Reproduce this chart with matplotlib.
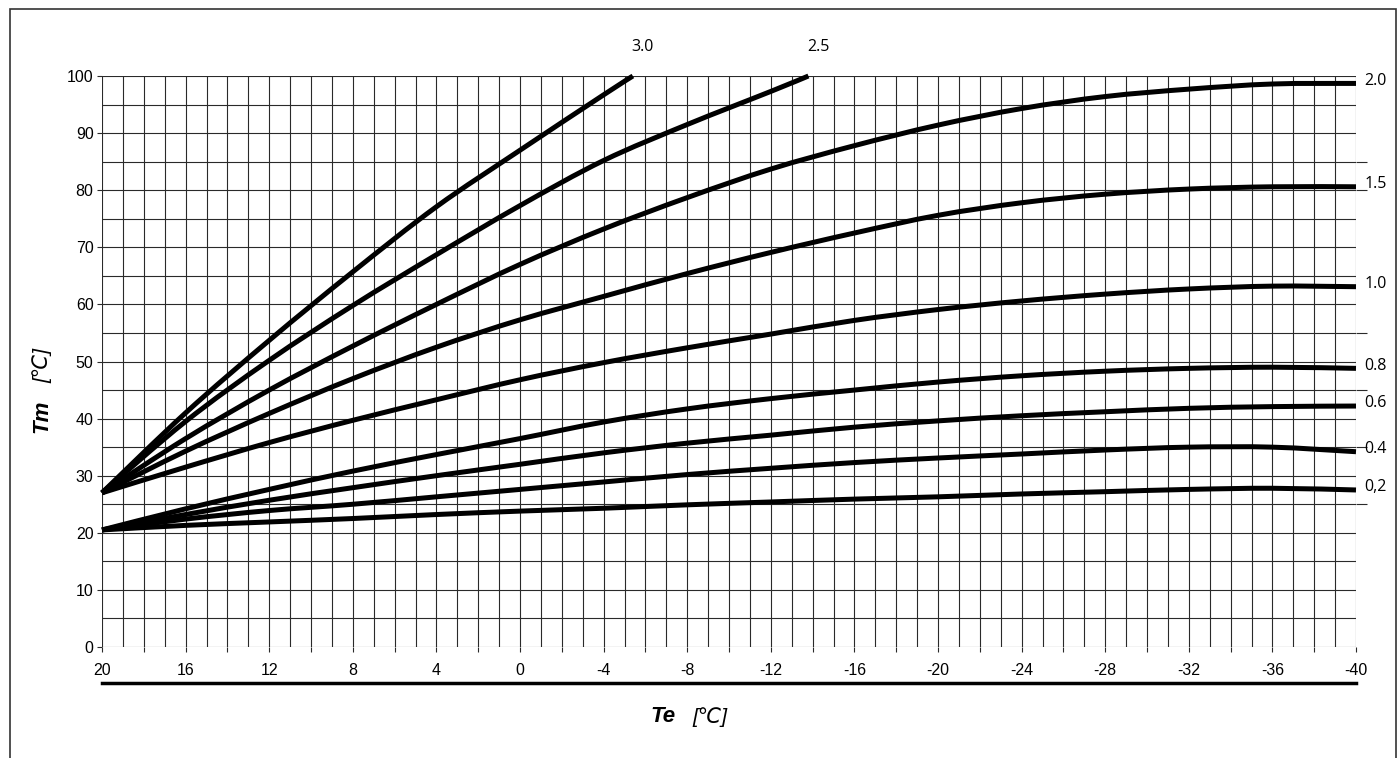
import matplotlib
matplotlib.use('Agg')
import matplotlib.pyplot as plt
from matplotlib.patches import Rectangle, PathPatch
from matplotlib.path import Path
from matplotlib.lines import Line2D
import matplotlib.transforms as mtransforms

# ---- data ----
te_full = [20, 16, 12, 8, 4, 0, -4, -8, -12, -16, -20, -24, -28, -32, -36, -40]

te_30 = [20, 16, 12, 8, 4, 0, -4, -5.4]
tm_30 = [27, 41, 53.7, 65.7, 77.1, 87, 96.7, 100]

te_25 = [20, 16, 12, 8, 4, 0, -4, -8, -12, -13.8]
tm_25 = [27, 39.5, 50.2, 59.8, 68.7, 77.3, 85.2, 91.5, 97.3, 100]

tm_20 = [27, 36.5, 45, 52.7, 60, 67, 73.2, 78.7, 83.7, 87.8, 91.4, 94.3, 96.4, 97.7, 98.6, 98.7]
tm_15 = [27, 34.3, 40.9, 47, 52.5, 57.3, 61.4, 65.4, 69.1, 72.5, 75.6, 77.8, 79.3, 80.2, 80.6, 80.6]
tm_10 = [27, 31.5, 35.8, 39.7, 43.3, 46.8, 49.8, 52.4, 54.8, 57.2, 59.1, 60.6, 61.8, 62.7, 63.2, 63.1]
tm_08 = [20.5, 24.2, 27.6, 30.8, 33.7, 36.5, 39.4, 41.7, 43.5, 45.0, 46.4, 47.5, 48.3, 48.8, 49.0, 48.8]
tm_06 = [20.5, 23.2, 25.7, 27.9, 30.0, 32.0, 34.0, 35.7, 37.1, 38.5, 39.6, 40.5, 41.2, 41.8, 42.1, 42.2]
tm_04 = [20.5, 22.4, 23.9, 25.0, 26.3, 27.6, 28.9, 30.2, 31.3, 32.3, 33.1, 33.8, 34.5, 35.0, 35.0, 34.2]
tm_02 = [20.5, 21.3, 21.9, 22.5, 23.2, 23.8, 24.3, 24.9, 25.4, 25.9, 26.3, 26.8, 27.2, 27.6, 27.8, 27.5]

side_labels = ["2.0", "1.5", "1.0", "0.8", "0.6", "0.4", "0,2"]
top_labels = ["3.0", "2.5"]

y_ticks = [0, 10, 20, 30, 40, 50, 60, 70, 80, 90, 100]
x_ticks = [20, 16, 12, 8, 4, 0, -4, -8, -12, -16, -20, -24, -28, -32, -36, -40]
right_stubs = [25, 35, 45, 55, 80, 85]


def smooth_path(xs, ys, t=1/6):
    """Smoothed (Bezier) line through the given points, like a spreadsheet 'smoothed line'."""
    pts = list(zip(xs, ys))
    n = len(pts)
    verts = [pts[0]]
    codes = [Path.MOVETO]
    for i in range(n - 1):
        p0 = pts[i - 1] if i > 0 else pts[i]
        p1 = pts[i]
        p2 = pts[i + 1]
        p3 = pts[i + 2] if i + 2 < n else pts[i + 1]
        c1 = (p1[0] + (p2[0] - p0[0]) * t, p1[1] + (p2[1] - p0[1]) * t)
        c2 = (p2[0] - (p3[0] - p1[0]) * t, p2[1] - (p3[1] - p1[1]) * t)
        verts += [c1, c2, p2]
        codes += [Path.CURVE4] * 3
    return Path(verts, codes)


# ---- figure ----
fig = plt.figure(figsize=(13.98, 7.58), dpi=100)
fig.patch.set_facecolor('white')
ax = fig.add_axes([102/1398, 1-647/758, (1356-102)/1398, (647-76)/758])

ax.set_xlim(20, -40)
ax.set_ylim(0, 100)

gridc = '#2a2a2a'
for v in range(-40, 21, 1):
    ax.axvline(v, color=gridc, lw=0.8, zorder=1)
for h in range(0, 101, 5):
    ax.axhline(h, color=gridc, lw=0.8, zorder=1)

for s in ax.spines.values():
    s.set_visible(False)

fam = ['Liberation Sans', 'DejaVu Sans']
ax.set_yticks(y_ticks)
ax.set_yticklabels([str(v) for v in y_ticks])
ax.set_xticks(x_ticks)
ax.set_xticklabels([str(v) for v in x_ticks])
ax.set_xticks(list(range(18, -40, -4)), minor=True)
ax.tick_params(axis='both', which='both', direction='out', width=0.8,
               color=gridc, labelsize=11.5)
ax.tick_params(axis='y', which='both', length=3.6, pad=2.5)
ax.tick_params(axis='x', which='both', length=3.6, pad=8)
for lab in ax.get_xticklabels() + ax.get_yticklabels():
    lab.set_fontfamily(fam)

sec = ax.secondary_yaxis('right')
sec.set_yticks(right_stubs)
sec.set_yticklabels([''] * len(right_stubs))
sec.tick_params(length=8, width=0.8, color=gridc)
sec.spines['right'].set_visible(False)

lw = 3.6
series = [
    (te_full, tm_20), (te_full, tm_15), (te_full, tm_10),
    (te_full, tm_08), (te_full, tm_06), (te_full, tm_04), (te_full, tm_02),
]
lab_font = ['Open Sans', 'DejaVu Sans']
for (xs, ys), lab in zip(series, side_labels):
    ax.add_patch(PathPatch(smooth_path(xs, ys), facecolor='none', edgecolor='black',
                           lw=lw, joinstyle='round', capstyle='butt', zorder=3,
                           clip_on=False))
    ax.annotate(lab, xy=(xs[-1], ys[-1]), xytext=(6, 2), textcoords='offset points',
                ha='left', va='center', fontsize=11.5, family=lab_font,
                annotation_clip=False)

for (xs, ys), lab in zip([(te_30, tm_30), (te_25, tm_25)], top_labels):
    ax.add_patch(PathPatch(smooth_path(xs, ys), facecolor='none', edgecolor='black',
                           lw=lw, joinstyle='round', capstyle='butt', zorder=3,
                           clip_on=False))
    ax.annotate(lab, xy=(xs[-1], ys[-1]), xytext=(7, 21), textcoords='offset points',
                ha='center', va='center', fontsize=11.5, family=lab_font,
                annotation_clip=False)

# thick rule under the x tick labels
trans = mtransforms.blended_transform_factory(ax.transAxes, fig.transFigure)
fig.add_artist(Line2D([0, 1], [1-683/758, 1-683/758], transform=trans,
                      color='black', lw=2.5))

# axis titles
fig.text(42/1398, 1-416/758, 'Tm', rotation=90, ha='center', va='center',
         fontsize=16, fontweight='bold', fontstyle='italic', family=fam)
fig.text(42/1398, 1-365/758, '[℃]', rotation=90, ha='center', va='center',
         fontsize=15, fontstyle='italic', family=fam)
fig.text(663/1398, 1-717/758, 'Te', ha='center', va='center',
         fontsize=16, fontweight='bold', fontstyle='italic', family=fam)
fig.text(710/1398, 1-717/758, '[℃]', ha='center', va='center',
         fontsize=15, fontstyle='italic', family=fam)

# outer frame
fig.add_artist(Rectangle((10/1398, -0.05), (1396-10)/1398, (1-9/758) + 0.05,
                         transform=fig.transFigure, fill=False,
                         edgecolor='#333333', lw=1.2))

fig.savefig('out.png', dpi=100)
